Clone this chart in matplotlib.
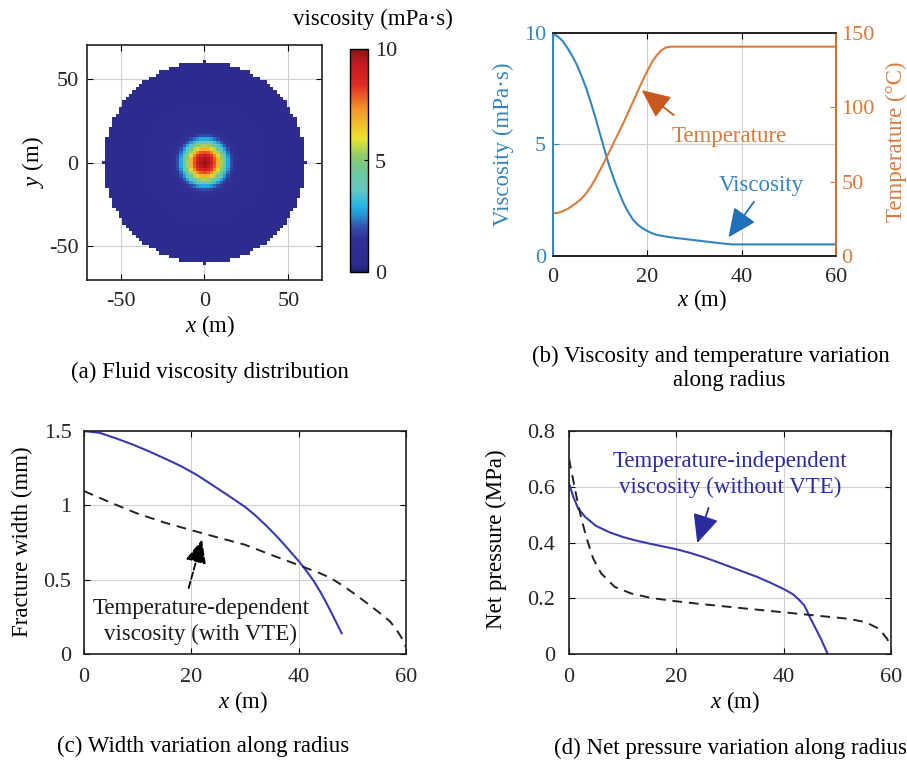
import numpy as np
import matplotlib
matplotlib.use("Agg")
import matplotlib.pyplot as plt
from matplotlib.colors import LinearSegmentedColormap

plt.rcParams["font.family"] = ["Liberation Serif", "DejaVu Serif"]
plt.rcParams["mathtext.fontset"] = "custom"
plt.rcParams["mathtext.rm"] = "Liberation Serif"
plt.rcParams["mathtext.it"] = "Liberation Serif:italic"
plt.rcParams["font.size"] = 16
plt.rcParams["axes.unicode_minus"] = False

# ---------------- data ----------------
# (b) viscosity along radius (mPa·s)
visc_x = [0, 1, 2, 3, 4, 5, 6, 7, 8, 9, 10, 11, 12, 13, 14, 15, 16, 17, 18, 19,
          20, 21, 22, 24, 26, 28, 30, 32, 34, 36, 38, 40, 50, 60]
visc_vals = [9.95, 9.85, 9.65, 9.35, 9.0, 8.6, 8.1, 7.55, 6.9, 6.2, 5.45, 4.7,
             4.0, 3.4, 2.85, 2.35, 1.95, 1.62, 1.4, 1.24, 1.12, 1.02, 0.95,
             0.87, 0.81, 0.76, 0.71, 0.66, 0.61, 0.56, 0.52, 0.52, 0.52, 0.52]
# (b) temperature along radius (°C)
temp_x = [0, 1, 2, 3, 4, 5, 6, 7, 8, 9, 10, 11, 12, 13, 14, 15, 16, 17, 18, 19,
          20, 21, 22, 23, 24, 25, 40, 60]
temp_vals = [28.7, 29.0, 30.0, 31.5, 33.5, 35.8, 38.5, 42.0, 46.5, 52.0, 58.0,
             64.0, 70.5, 77.0, 83.5, 90.0, 97.0, 104.0, 111.0, 118.0, 124.5,
             130.5, 135.0, 138.5, 140.3, 140.8, 140.8, 140.8]

# (c) fracture width (mm)
width_noVTE_x = [0, 3, 6, 9, 12, 15, 18, 21, 24, 27, 30, 32, 34, 36, 38, 40, 41,
                 42, 43, 44, 45, 46, 47, 48]
width_noVTE = [1.50, 1.487, 1.45, 1.41, 1.365, 1.316, 1.265, 1.205, 1.135, 1.063,
               0.99, 0.93, 0.862, 0.788, 0.708, 0.625, 0.58, 0.532, 0.48, 0.42,
               0.355, 0.285, 0.213, 0.14]
width_VTE_x = [0, 5, 10, 15, 20, 25, 30, 35, 40, 42, 44, 46, 48, 50, 52, 54, 56,
               57, 58, 59, 59.6, 60]
width_VTE = [1.096, 1.018, 0.944, 0.884, 0.833, 0.783, 0.735, 0.665, 0.598, 0.57,
             0.543, 0.51, 0.465, 0.415, 0.362, 0.307, 0.25, 0.22, 0.175, 0.12,
             0.08, 0.045]

# (d) net pressure (MPa)
press_noVTE_x = [0, 0.8, 1.7, 3, 5, 7.5, 10, 12.5, 15, 17.5, 20, 22.5, 25, 27.5,
                 30, 32.5, 35, 37.5, 40, 41.5, 42, 43, 43.8, 44.3, 44.7, 46, 47,
                 48.2]
press_noVTE = [0.612, 0.564, 0.522, 0.492, 0.46, 0.437, 0.42, 0.407, 0.396, 0.386,
               0.376, 0.363, 0.348, 0.331, 0.313, 0.295, 0.277, 0.256, 0.233,
               0.217, 0.21, 0.192, 0.175, 0.157, 0.139, 0.09, 0.052, 0.0]
press_VTE_x = [0, 0.6, 1.4, 2.3, 3.3, 4.5, 6, 8.5, 11.6, 15.3, 20, 24.2, 33.5,
               42.9, 52.2, 55.3, 57.8, 59.3, 60]
press_VTE = [0.70, 0.642, 0.564, 0.486, 0.414, 0.343, 0.289, 0.241, 0.217, 0.201,
             0.189, 0.18, 0.162, 0.144, 0.126, 0.114, 0.09, 0.054, 0.024]

disk_radius = 60.0
cell = 2.0

# ---------------- styling ----------------
W, H = 907, 760
TXT = 16.5
TICK = "#262626"
BLUE_B = "#3484BF"
ORANGE_B = "#DB7A3C"
ORANGE_HEAD = "#C8581E"
BLUE_HEAD = "#1F70B8"
LINE_BLUE = "#3A3AB0"
DASH = (0, (5, 3.5))

jet_print = LinearSegmentedColormap.from_list("jet_print", [
    (0.00, (0.12, 0.12, 0.43)),
    (0.03, (0.17, 0.17, 0.55)),
    (0.15, (0.19, 0.19, 0.59)),
    (0.20, (0.20, 0.32, 0.67)),
    (0.25, (0.16, 0.55, 0.82)),
    (0.29, (0.12, 0.71, 0.90)),
    (0.37, (0.40, 0.78, 0.78)),
    (0.45, (0.43, 0.78, 0.60)),
    (0.52, (0.55, 0.80, 0.42)),
    (0.60, (0.92, 0.90, 0.16)),
    (0.73, (0.96, 0.59, 0.16)),
    (0.84, (0.90, 0.16, 0.14)),
    (0.93, (0.78, 0.10, 0.12)),
    (1.00, (0.55, 0.08, 0.08)),
])


def box(l, t, r, b):
    return [l / W, 1 - b / H, (r - l) / W, (b - t) / H]


def style_axes(ax, pad_x=9, pad_y=6, right=True, top=True):
    ax.tick_params(direction="in", length=4, width=0.8, labelsize=16,
                   colors="black", labelcolor=TICK, top=top, right=right)
    ax.tick_params(axis="x", pad=pad_x)
    ax.tick_params(axis="y", pad=pad_y)
    for s in ax.spines.values():
        s.set_linewidth(1.2)
        s.set_color("#202020")
    ax.grid(True, color="#cfcfcf", lw=0.8)
    ax.set_axisbelow(True)


def arrow(ax, tip, tail, color, ls="-", hl=0.9, hw=0.4):
    ax.annotate("", xy=tip, xytext=tail,
                arrowprops=dict(arrowstyle=f"-|>,head_length={hl},head_width={hw}",
                                color=color, lw=1.3, ls=ls, mutation_scale=16,
                                shrinkA=0, shrinkB=0))


fig = plt.figure(figsize=(W / 100, H / 100), dpi=100)

# ---------------- (a) viscosity map ----------------
axa = fig.add_axes(box(87, 45, 322, 280))
centers = np.arange(-disk_radius, disk_radius + cell / 2, cell)
edges = np.append(centers - cell / 2, centers[-1] + cell / 2)
Xc, Yc = np.meshgrid(centers, centers)
Rc = np.hypot(Xc, Yc)
field = np.interp(Rc, visc_x, visc_vals)
field = np.ma.masked_where(Rc > disk_radius, field)
mesh = axa.pcolormesh(edges, edges, field, cmap=jet_print, vmin=0, vmax=10,
                      shading="flat", zorder=2)
axa.set_xlim(-70, 70)
axa.set_ylim(-70, 70)
axa.set_xticks([-50, 0, 50])
axa.set_yticks([-50, 0, 50])
style_axes(axa, pad_x=9, pad_y=6)

cax = fig.add_axes(box(350, 49, 368, 272))
cb = fig.colorbar(mesh, cax=cax, ticks=[0, 5, 10])
cb.ax.tick_params(direction="in", length=3, labelsize=16, labelcolor=TICK, pad=5)
cb.outline.set_linewidth(1.0)
fig.text(373 / W, 1 - 19 / H, "viscosity (mPa·s)", ha="center", va="center",
         fontsize=TXT)
fig.text(33 / W, 1 - 162 / H, "$y$ (m)", rotation=90, ha="center",
         va="center", fontsize=TXT)
fig.text(210 / W, 1 - 326 / H, "$x$ (m)", ha="center", va="center", fontsize=TXT)
fig.text(210 / W, 1 - 372 / H, "(a) Fluid viscosity distribution", ha="center",
         va="center", fontsize=TXT)

# ---------------- (b) viscosity & temperature ----------------
axb = fig.add_axes(box(553, 33, 836, 256))
axb.plot(visc_x, visc_vals, color=BLUE_B, lw=1.5)
axb.set_xlim(0, 60)
axb.set_ylim(0, 10)
axb.set_xticks([0, 20, 40, 60])
axb.set_yticks([0, 5, 10])
style_axes(axb, pad_x=9, pad_y=5, right=False)
axb.tick_params(axis="y", labelcolor=BLUE_B, colors=BLUE_B)
axb.tick_params(axis="x", colors="black", labelcolor=TICK)
axb.spines["left"].set_color(BLUE_B)

axt = axb.twinx()
axt.plot(temp_x, temp_vals, color=ORANGE_B, lw=1.5)
axt.set_ylim(0, 150)
axt.set_yticks([0, 50, 100, 150])
axt.tick_params(direction="in", length=4, width=0.8, labelsize=16,
                colors=ORANGE_B, labelcolor=ORANGE_B, pad=4)
for s in axt.spines.values():
    s.set_linewidth(1.2)
    s.set_color("#202020")
axt.spines["right"].set_color(ORANGE_B)
axt.spines["left"].set_color(BLUE_B)

arrow(axt, (18.8, 111.6), (25.6, 94.8), ORANGE_HEAD, hl=1.1, hw=0.5)
axt.text(37.3, 80.2, "Temperature", color=ORANGE_B, ha="center", va="center",
         fontsize=TXT)
arrow(axb, (37.2, 0.84), (42.6, 2.43), BLUE_HEAD, hl=1.1, hw=0.5)
axb.text(44.1, 3.18, "Viscosity", color=BLUE_B, ha="center", va="center",
         fontsize=TXT)

fig.text(503 / W, 1 - 144 / H, "Viscosity (mPa·s)", rotation=90, ha="center",
         va="center", fontsize=TXT, color=BLUE_B)
fig.text(896 / W, 1 - 142 / H, "Temperature (°C)", rotation=90, ha="center",
         va="center", fontsize=TXT, color=ORANGE_B)
fig.text(702 / W, 1 - 300 / H, "$x$ (m)", ha="center", va="center", fontsize=TXT)
fig.text(711 / W, 1 - 356 / H, "(b) Viscosity and temperature variation",
         ha="center", va="center", fontsize=TXT)
fig.text(729 / W, 1 - 381 / H, "along radius", ha="center", va="center",
         fontsize=TXT)

# ---------------- (c) fracture width ----------------
axc = fig.add_axes(box(84, 431, 406, 654))
axc.plot(width_noVTE_x, width_noVTE, color=LINE_BLUE, lw=1.5)
axc.plot(width_VTE_x, width_VTE, color="#222222", lw=1.4, ls=DASH)
axc.set_xlim(0, 60)
axc.set_ylim(0, 1.5)
axc.set_xticks([0, 20, 40, 60])
axc.set_yticks([0, 0.5, 1, 1.5])
axc.set_yticklabels(["0", "0.5", "1", "1.5"])
style_axes(axc, pad_x=10, pad_y=9)
arrow(axc, (22.0, 0.77), (19.5, 0.443), "black", ls="--")
axc.text(21.8, 0.218, "Temperature-dependent\nviscosity (with VTE)",
         ha="center", va="center", fontsize=TXT, linespacing=1.3,
         color="#1a1a1a")
fig.text(22 / W, 1 - 542 / H, "Fracture width (mm)", rotation=90, ha="center",
         va="center", fontsize=TXT)
fig.text(243 / W, 1 - 702 / H, "$x$ (m)", ha="center", va="center", fontsize=TXT)
fig.text(203 / W, 1 - 746 / H, "(c) Width variation along radius", ha="center",
         va="center", fontsize=TXT)

# ---------------- (d) net pressure ----------------
axd = fig.add_axes(box(569, 431, 891, 654))
axd.plot(press_noVTE_x, press_noVTE, color=LINE_BLUE, lw=1.5)
axd.plot(press_VTE_x, press_VTE, color="#222222", lw=1.4, ls=DASH)
axd.set_xlim(0, 60)
axd.set_ylim(0, 0.8)
axd.set_xticks([0, 20, 40, 60])
axd.set_yticks([0, 0.2, 0.4, 0.6, 0.8])
axd.set_yticklabels(["0", "0.2", "0.4", "0.6", "0.8"])
style_axes(axd, pad_x=10, pad_y=10)
arrow(axd, (23.9, 0.398), (26.0, 0.524), "#2B2BA0", hl=1.1, hw=0.5)
axd.text(30.0, 0.644, "Temperature-independent\nviscosity (without VTE)",
         ha="center", va="center", fontsize=TXT, linespacing=1.3,
         color="#2B2BA0")
fig.text(496 / W, 1 - 539 / H, "Net pressure (MPa)", rotation=90, ha="center",
         va="center", fontsize=TXT)
fig.text(735 / W, 1 - 702 / H, "$x$ (m)", ha="center", va="center", fontsize=TXT)
fig.text(730 / W, 1 - 748 / H, "(d) Net pressure variation along radius",
         ha="center", va="center", fontsize=TXT)

fig.savefig("out.png", dpi=100)
